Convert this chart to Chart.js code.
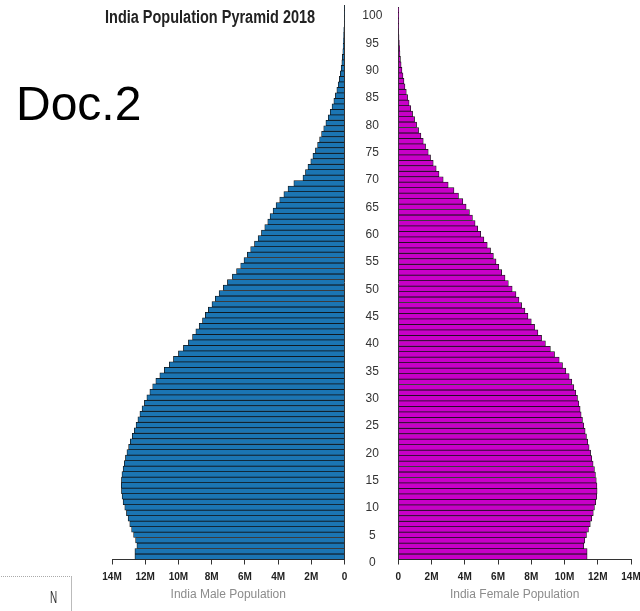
<!DOCTYPE html>
<html>
<head>
<meta charset="utf-8">
<title>India Population Pyramid 2018</title>
<script src="https://cdn.jsdelivr.net/npm/chart.js@4.4.1/dist/chart.umd.min.js"></script>
<style>
  html, body { margin: 0; padding: 0; background: #fff; overflow: hidden; }
  body { width: 640px; height: 611px; position: relative; font-family: 'Liberation Sans', Arial, sans-serif; }
  canvas { position: absolute; left: 0; top: 0; }
  .chart-title { position: absolute; left: 105px; top: 8px; font: bold 18px/18px 'Liberation Sans', Arial, sans-serif; color: #222; white-space: nowrap; transform: scaleX(0.805); transform-origin: 0 0; }
  .doc { position: absolute; left: 16px; top: 80px; font: 48px/48px 'Liberation Sans', Arial, sans-serif; color: #000; }
  .nbox { position: absolute; left: -2px; top: 576px; width: 73px; height: 50px; border-top: 1px dotted #aaa; border-right: 1px solid #bbb; }
  .nbox span { position: absolute; left: 52px; top: 13px; font: 16px/16px 'Liberation Sans', Arial, sans-serif; color: #333; transform: scaleX(0.62); transform-origin: 0 0; }
</style>
</head>
<body>
<canvas id="maleChart" width="640" height="611"></canvas>
<canvas id="femaleChart" width="670" height="611"></canvas>
<div class="chart-title">India Population Pyramid 2018</div>
<div class="doc">Doc.2</div>
<div class="nbox"><span>N</span></div>
<script>
// --- Data (millions) ---
const ages = [
  0, 1, 2, 3, 4, 5, 6, 7, 8, 9,
  10, 11, 12, 13, 14, 15, 16, 17, 18, 19,
  20, 21, 22, 23, 24, 25, 26, 27, 28, 29,
  30, 31, 32, 33, 34, 35, 36, 37, 38, 39,
  40, 41, 42, 43, 44, 45, 46, 47, 48, 49,
  50, 51, 52, 53, 54, 55, 56, 57, 58, 59,
  60, 61, 62, 63, 64, 65, 66, 67, 68, 69,
  70, 71, 72, 73, 74, 75, 76, 77, 78, 79,
  80, 81, 82, 83, 84, 85, 86, 87, 88, 89,
  90, 91, 92, 93, 94, 95, 96, 97, 98, 99,
  100
];
const ageTicks = [0, 5, 10, 15, 20, 25, 30, 35, 40, 45, 50, 55, 60, 65, 70, 75, 80, 85, 90, 95, 100];
const popTicks = ['0', '2M', '4M', '6M', '8M', '10M', '12M', '14M'];

const malePop = [
  12.62, 12.62, 12.50, 12.58, 12.70, 12.82, 12.93, 13.03, 13.13, 13.23,
  13.33, 13.39, 13.43, 13.44, 13.43, 13.40, 13.33, 13.26, 13.19, 13.10,
  13.00, 12.90, 12.78, 12.66, 12.55, 12.44, 12.32, 12.19, 12.05, 11.90,
  11.72, 11.55, 11.36, 11.12, 10.85, 10.55, 10.30, 10.00, 9.70, 9.40,
  9.15, 8.95, 8.75, 8.55, 8.38, 8.20, 7.98, 7.78, 7.55, 7.30,
  7.05, 6.75, 6.50, 6.25, 6.05, 5.85, 5.65, 5.42, 5.20, 5.00,
  4.80, 4.62, 4.48, 4.30, 4.12, 3.90, 3.65, 3.40, 3.05, 2.50,
  2.35, 2.20, 2.03, 1.90, 1.75, 1.62, 1.50, 1.38, 1.25, 1.12,
  0.98, 0.86, 0.75, 0.64, 0.55, 0.46, 0.38, 0.31, 0.25, 0.20,
  0.16, 0.13, 0.10, 0.08, 0.06, 0.05, 0.04, 0.03, 0.02, 0.01,
  0.01
];
const femalePop = [
  11.36, 11.36, 11.16, 11.22, 11.32, 11.44, 11.55, 11.64, 11.73, 11.80,
  11.88, 11.94, 11.96, 11.95, 11.91, 11.86, 11.80, 11.72, 11.64, 11.57,
  11.48, 11.40, 11.32, 11.24, 11.16, 11.08, 11.00, 10.94, 10.86, 10.78,
  10.68, 10.56, 10.44, 10.28, 10.08, 9.88, 9.68, 9.40, 9.15, 8.85,
  8.62, 8.40, 8.20, 8.00, 7.80, 7.62, 7.42, 7.26, 7.08, 6.85,
  6.62, 6.42, 6.22, 6.05, 5.88, 5.72, 5.55, 5.35, 5.15, 4.96,
  4.78, 4.62, 4.46, 4.28, 4.08, 3.88, 3.62, 3.35, 3.00, 2.70,
  2.45, 2.28, 2.10, 1.94, 1.80, 1.64, 1.50, 1.36, 1.22, 1.10,
  0.98, 0.86, 0.75, 0.65, 0.56, 0.48, 0.40, 0.34, 0.28, 0.22,
  0.17, 0.13, 0.10, 0.08, 0.06, 0.04, 0.03, 0.02, 0.02, 0.01,
  0.01
];

// --- Layout ---
const PLOT_TOP = 5;
const PLOT_BOTTOM = 559.5;
const AXIS_HEIGHT = 611 - PLOT_BOTTOM;
const MALE_LEFT = 112, MALE_RIGHT = 344.5;
const FEMALE_LEFT = 398.3, FEMALE_RIGHT = 631;
const FEMALE_CANVAS_W = 670; // wider than the page so the last tick label gets its room

Chart.defaults.font.family = "'Liberation Sans', Arial, sans-serif";

const barStyle = { borderWidth: 0.75, borderColor: '#111', barPercentage: 1, categoryPercentage: 1 };

const popAxis = (reverse, title) => ({
    type: 'linear',
    min: 0,
    max: 14,
    reverse: reverse,
    afterFit: (scale) => { scale.height = AXIS_HEIGHT; },
    ticks: {
        stepSize: 2,
        autoSkip: false,
        maxRotation: 0,
        padding: 7,
        color: '#222',
        font: { size: 10, weight: 'bold' },
        callback: (v) => popTicks[v / 2]
    },
    grid: { drawOnChartArea: false, drawTicks: true, tickLength: 5, color: '#333' },
    border: { display: true, color: '#333', width: 1 },
    title: { display: true, text: title, color: '#8c8c8c', font: { size: 12 }, padding: { top: 0, bottom: 9 } }
});

const baseOptions = {
    indexAxis: 'y',
    responsive: false,
    animation: false,
    devicePixelRatio: 1,
    plugins: { legend: { display: false }, tooltip: { enabled: false } }
};

// Male (left side)
new Chart(document.getElementById('maleChart'), {
    type: 'bar',
    data: {
        labels: ages,
        datasets: [{ label: 'Male', data: malePop, backgroundColor: '#1b75b3', ...barStyle }]
    },
    options: {
        ...baseOptions,
        layout: { autoPadding: false, padding: { left: MALE_LEFT, right: 640 - MALE_RIGHT, top: PLOT_TOP, bottom: 0 } },
        scales: {
            x: popAxis(true, 'India Male Population'),
            y: {
                position: 'right',
                reverse: true,
                afterFit: (scale) => { scale.width = 0; },
                ticks: { display: false },
                grid: { display: false, drawTicks: false },
                border: { display: true, color: '#333', width: 1 }
            }
        }
    }
});

// Female (right side), age labels sit in the gap
new Chart(document.getElementById('femaleChart'), {
    type: 'bar',
    data: {
        labels: ages,
        datasets: [{ label: 'Female', data: femalePop, backgroundColor: '#c800c8', ...barStyle }]
    },
    options: {
        ...baseOptions,
        layout: { autoPadding: false, padding: { left: MALE_RIGHT + 0.5, right: FEMALE_CANVAS_W - FEMALE_RIGHT, top: PLOT_TOP, bottom: 0 } },
        scales: {
            x: popAxis(false, 'India Female Population'),
            y: {
                position: 'left',
                reverse: true,
                afterFit: (scale) => { scale.width = FEMALE_LEFT - MALE_RIGHT - 0.5; },
                ticks: {
                    autoSkip: false,
                    crossAlign: 'center',
                    padding: 0,
                    labelOffset: 6,
                    color: '#333',
                    font: { size: 12 },
                    callback: (v) => ageTicks.includes(ages[v]) ? String(ages[v]) : null
                },
                grid: { display: false, drawTicks: true, tickLength: 16 },
                border: { display: true, color: '#333', width: 1 }
            }
        }
    }
});
</script>
</body>
</html>
